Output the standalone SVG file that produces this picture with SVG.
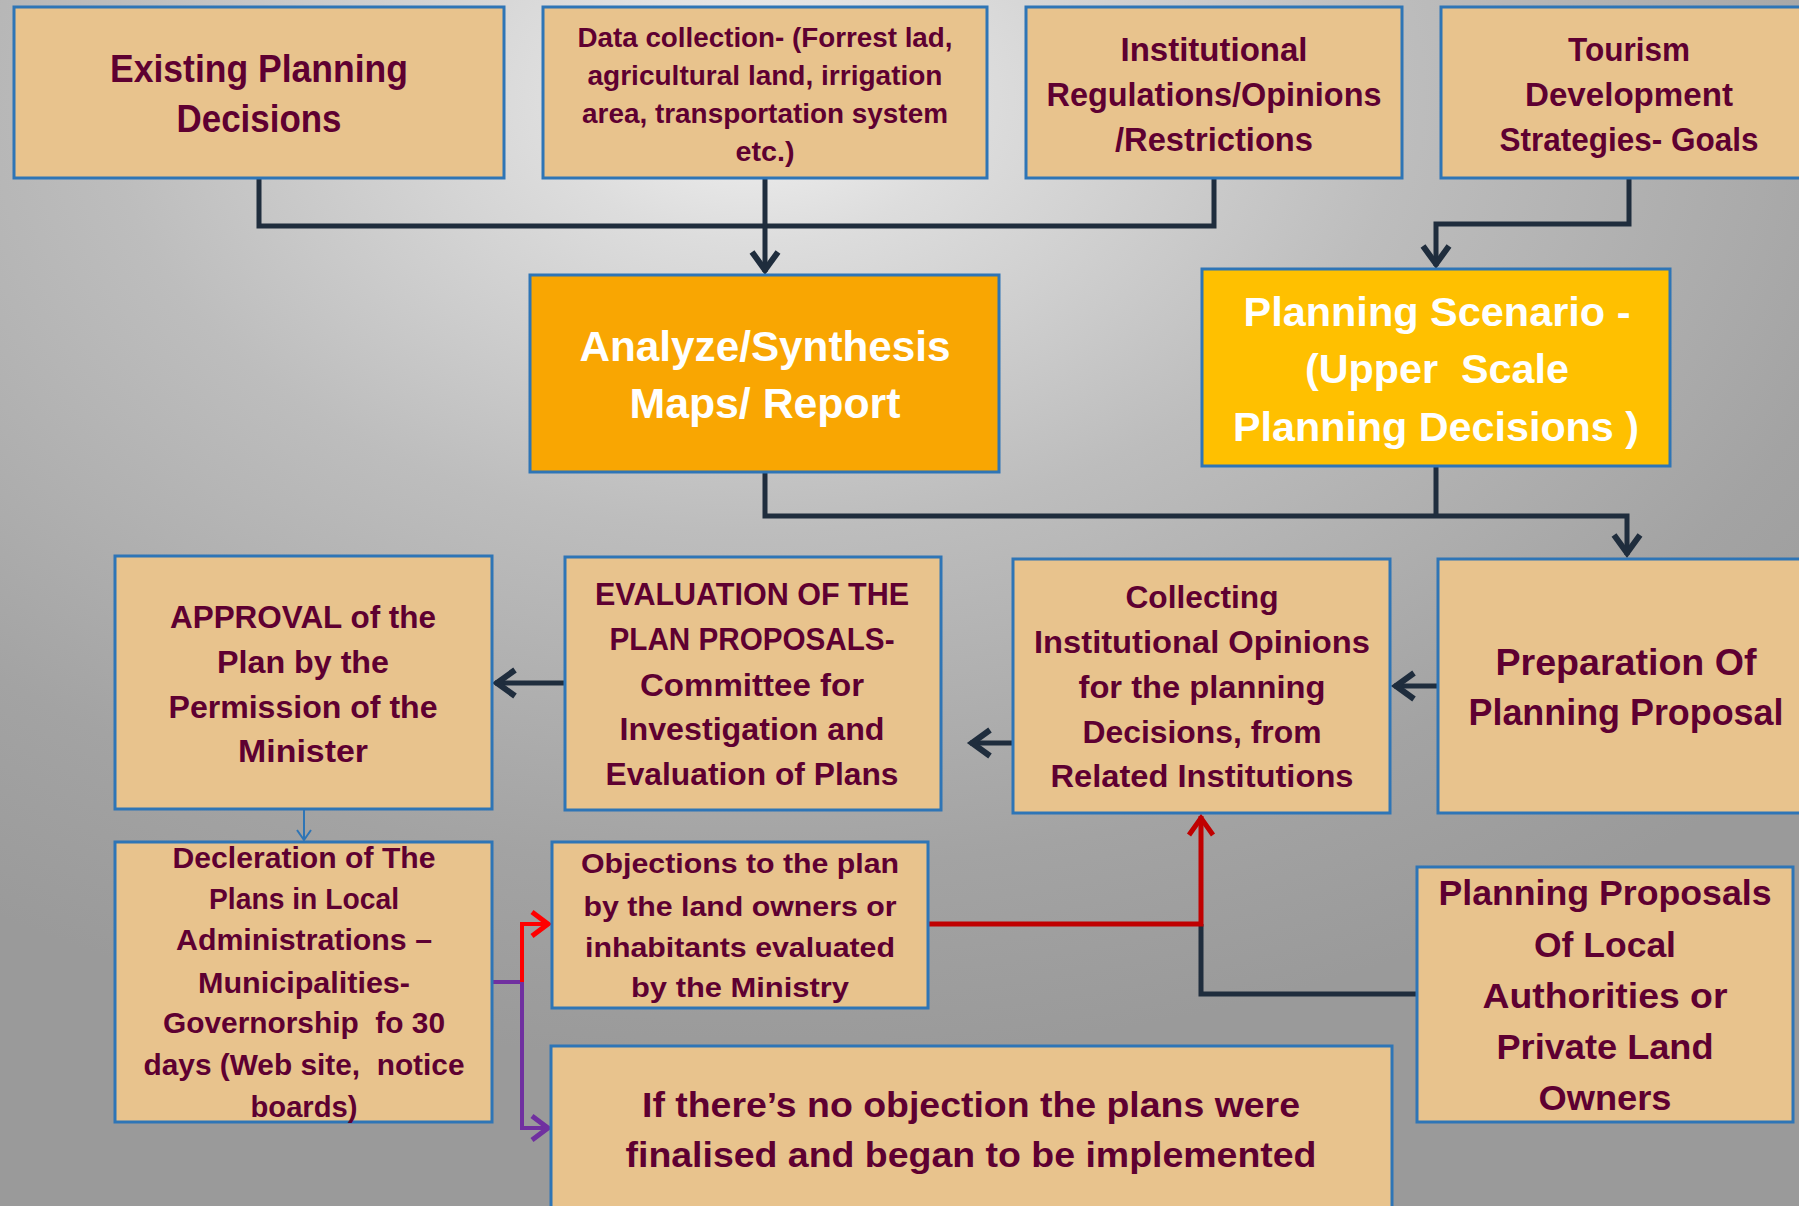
<svg xmlns="http://www.w3.org/2000/svg" width="1799" height="1206" viewBox="0 0 1799 1206">
<defs>
<radialGradient id="bg" cx="0.42" cy="0.08" r="0.8">
<stop offset="0" stop-color="#f3f3f3"/>
<stop offset="0.15" stop-color="#dddddd"/>
<stop offset="0.45" stop-color="#bdbdbd"/>
<stop offset="0.8" stop-color="#a3a3a3"/>
<stop offset="1" stop-color="#9a9a9a"/>
</radialGradient>
<marker id="mDark" markerUnits="userSpaceOnUse" markerWidth="50" markerHeight="50" viewBox="-35 -25 50 50" refX="0" refY="0" orient="auto"><path d="M-20,-13 L-2,0 L-20,13" fill="none" stroke="#1F2D3D" stroke-width="6"/></marker>
<marker id="mRed" markerUnits="userSpaceOnUse" markerWidth="50" markerHeight="50" viewBox="-35 -25 50 50" refX="0" refY="0" orient="auto"><path d="M-19,-12 L-2,0 L-19,12" fill="none" stroke="#C00000" stroke-width="5"/></marker>
<marker id="mRed2" markerUnits="userSpaceOnUse" markerWidth="50" markerHeight="50" viewBox="-35 -25 50 50" refX="0" refY="0" orient="auto"><path d="M-17,-12 L-1,0 L-17,12" fill="none" stroke="#FF0000" stroke-width="5"/></marker>
<marker id="mPurple" markerUnits="userSpaceOnUse" markerWidth="50" markerHeight="50" viewBox="-35 -25 50 50" refX="0" refY="0" orient="auto"><path d="M-17,-12 L-1,0 L-17,12" fill="none" stroke="#7030A0" stroke-width="5"/></marker>
<marker id="mBlue" markerUnits="userSpaceOnUse" markerWidth="20" markerHeight="20" viewBox="-15 -10 20 20" refX="0" refY="0" orient="auto"><path d="M-10,-7 L0,0 L-10,7" fill="none" stroke="#2E75B6" stroke-width="2"/></marker>
</defs>
<style>
.box{fill:#E8C38D;stroke:#2E75B6;stroke-width:3}
.ob{fill:#F9A602;stroke:#2E75B6;stroke-width:3}
.yb{fill:#FFC000;stroke:#2E75B6;stroke-width:3}
text{font-family:"Liberation Sans",Arial,sans-serif;font-weight:bold;fill:#5E0031;text-anchor:middle}
.w{fill:#ffffff}
.c{fill:none;stroke:#1F2D3D;stroke-width:5}
</style>
<rect x="0" y="0" width="1799" height="1206" fill="url(#bg)"/>

<g id="connectors">
<path class="c" d="M259,178 V226 H1214 V178"/>
<path class="c" d="M765,178 V272" marker-end="url(#mDark)"/>
<path class="c" d="M1629,178 V224 H1436 V266" marker-end="url(#mDark)"/>
<path class="c" d="M765,472 V516 H1627 V555" marker-end="url(#mDark)"/>
<path class="c" d="M1436,466 V516"/>
<path class="c" d="M565,683 H495" marker-end="url(#mDark)"/>
<path class="c" d="M1026,743 H970" marker-end="url(#mDark)"/>
<path class="c" d="M1438,686 H1394" marker-end="url(#mDark)"/>
<path d="M304,809 V840" fill="none" stroke="#2E75B6" stroke-width="2" marker-end="url(#mBlue)"/>
<path class="c" d="M1417,994 H1201 V924"/>
<path d="M928,924 H1201 V816" fill="none" stroke="#C00000" stroke-width="5" marker-end="url(#mRed)"/>
<path d="M491,982 H522 V1128 H549" fill="none" stroke="#7030A0" stroke-width="4" marker-end="url(#mPurple)"/>
<path d="M522,982 V924 H549" fill="none" stroke="#FF0000" stroke-width="4" marker-end="url(#mRed2)"/>
</g>

<g id="existing">
<rect class="box" x="14" y="7" width="490" height="171"/>
<text font-size="38" x="259" y="82" textLength="298" lengthAdjust="spacingAndGlyphs">Existing Planning</text>
<text font-size="38" x="259" y="132" textLength="165" lengthAdjust="spacingAndGlyphs">Decisions</text>
</g>

<g id="data">
<rect class="box" x="543" y="7" width="444" height="171"/>
<text font-size="27" x="765" y="47" textLength="375" lengthAdjust="spacingAndGlyphs">Data collection- (Forrest lad,</text>
<text font-size="27" x="765" y="85" textLength="355" lengthAdjust="spacingAndGlyphs">agricultural land, irrigation</text>
<text font-size="27" x="765" y="123" textLength="366" lengthAdjust="spacingAndGlyphs">area, transportation system</text>
<text font-size="27" x="765" y="161" textLength="59" lengthAdjust="spacingAndGlyphs">etc.)</text>
</g>

<g id="institutional">
<rect class="box" x="1026" y="7" width="376" height="171"/>
<text font-size="33" x="1214" y="61" textLength="187" lengthAdjust="spacingAndGlyphs">Institutional</text>
<text font-size="33" x="1214" y="106" textLength="335" lengthAdjust="spacingAndGlyphs">Regulations/Opinions</text>
<text font-size="33" x="1214" y="151" textLength="198" lengthAdjust="spacingAndGlyphs">/Restrictions</text>
</g>

<g id="tourism">
<rect class="box" x="1441" y="7" width="380" height="171"/>
<text font-size="33" x="1629" y="61" textLength="122" lengthAdjust="spacingAndGlyphs">Tourism</text>
<text font-size="33" x="1629" y="106" textLength="208" lengthAdjust="spacingAndGlyphs">Development</text>
<text font-size="33" x="1629" y="151" textLength="259" lengthAdjust="spacingAndGlyphs">Strategies- Goals</text>
</g>

<g id="analyze">
<rect class="ob" x="530" y="275" width="469" height="197"/>
<text class="w" font-size="43" x="765" y="361" textLength="371" lengthAdjust="spacingAndGlyphs">Analyze/Synthesis</text>
<text class="w" font-size="43" x="765" y="418" textLength="271" lengthAdjust="spacingAndGlyphs">Maps/ Report</text>
</g>

<g id="scenario">
<rect class="yb" x="1202" y="269" width="468" height="197"/>
<text class="w" font-size="40" x="1437" y="326" textLength="387" lengthAdjust="spacingAndGlyphs">Planning Scenario -</text>
<text class="w" font-size="40" x="1437" y="383" textLength="264" lengthAdjust="spacingAndGlyphs" xml:space="preserve">(Upper  Scale</text>
<text class="w" font-size="40" x="1436" y="441" textLength="406" lengthAdjust="spacingAndGlyphs">Planning Decisions )</text>
</g>

<g id="approval">
<rect class="box" x="115" y="556" width="377" height="253"/>
<text font-size="32" x="303" y="628" textLength="266" lengthAdjust="spacingAndGlyphs">APPROVAL of the</text>
<text font-size="32" x="303" y="673" textLength="172" lengthAdjust="spacingAndGlyphs">Plan by the</text>
<text font-size="32" x="303" y="718" textLength="269" lengthAdjust="spacingAndGlyphs">Permission of the</text>
<text font-size="32" x="303" y="762" textLength="130" lengthAdjust="spacingAndGlyphs">Minister</text>
</g>

<g id="evaluation">
<rect class="box" x="565" y="557" width="376" height="253"/>
<text font-size="32" x="752" y="605" textLength="314" lengthAdjust="spacingAndGlyphs">EVALUATION OF THE</text>
<text font-size="32" x="752" y="650" textLength="285" lengthAdjust="spacingAndGlyphs">PLAN PROPOSALS-</text>
<text font-size="32" x="752" y="696" textLength="224" lengthAdjust="spacingAndGlyphs">Committee for</text>
<text font-size="32" x="752" y="740" textLength="265" lengthAdjust="spacingAndGlyphs">Investigation and</text>
<text font-size="32" x="752" y="785" textLength="293" lengthAdjust="spacingAndGlyphs">Evaluation of Plans</text>
</g>

<g id="collecting">
<rect class="box" x="1013" y="559" width="377" height="254"/>
<text font-size="32" x="1202" y="608" textLength="153" lengthAdjust="spacingAndGlyphs">Collecting</text>
<text font-size="32" x="1202" y="653" textLength="336" lengthAdjust="spacingAndGlyphs">Institutional Opinions</text>
<text font-size="32" x="1202" y="698" textLength="247" lengthAdjust="spacingAndGlyphs">for the planning</text>
<text font-size="32" x="1202" y="743" textLength="239" lengthAdjust="spacingAndGlyphs">Decisions, from</text>
<text font-size="32" x="1202" y="787" textLength="303" lengthAdjust="spacingAndGlyphs">Related Institutions</text>
</g>

<g id="preparation">
<rect class="box" x="1438" y="559" width="380" height="254"/>
<text font-size="36" x="1626" y="675" textLength="261" lengthAdjust="spacingAndGlyphs">Preparation Of</text>
<text font-size="36" x="1626" y="725" textLength="315" lengthAdjust="spacingAndGlyphs">Planning Proposal</text>
</g>

<g id="decleration">
<rect class="box" x="115" y="842" width="377" height="280"/>
<text font-size="30" x="304" y="868" textLength="263" lengthAdjust="spacingAndGlyphs">Decleration of The</text>
<text font-size="30" x="304" y="909" textLength="190" lengthAdjust="spacingAndGlyphs">Plans in Local</text>
<text font-size="30" x="304" y="950" textLength="256" lengthAdjust="spacingAndGlyphs">Administrations –</text>
<text font-size="30" x="304" y="993" textLength="212" lengthAdjust="spacingAndGlyphs">Municipalities-</text>
<text font-size="30" x="304" y="1033" textLength="282" lengthAdjust="spacingAndGlyphs" xml:space="preserve">Governorship  fo 30</text>
<text font-size="30" x="304" y="1075" textLength="321" lengthAdjust="spacingAndGlyphs" xml:space="preserve">days (Web site,  notice</text>
<text font-size="30" x="304" y="1117" textLength="107" lengthAdjust="spacingAndGlyphs">boards)</text>
</g>

<g id="objections">
<rect class="box" x="552" y="842" width="376" height="166"/>
<text font-size="28" x="740" y="873" textLength="318" lengthAdjust="spacingAndGlyphs">Objections to the plan</text>
<text font-size="28" x="740" y="916" textLength="313" lengthAdjust="spacingAndGlyphs">by the land owners or</text>
<text font-size="28" x="740" y="957" textLength="310" lengthAdjust="spacingAndGlyphs">inhabitants evaluated</text>
<text font-size="28" x="740" y="997" textLength="218" lengthAdjust="spacingAndGlyphs">by the Ministry</text>
</g>

<g id="final">
<rect class="box" x="551" y="1046" width="841" height="180"/>
<text font-size="35" x="971" y="1117" textLength="658" lengthAdjust="spacingAndGlyphs">If there’s no objection the plans were</text>
<text font-size="35" x="971" y="1167" textLength="691" lengthAdjust="spacingAndGlyphs">finalised and began to be implemented</text>
</g>

<g id="local">
<rect class="box" x="1417" y="867" width="376" height="255"/>
<text font-size="35" x="1605" y="905" textLength="333" lengthAdjust="spacingAndGlyphs">Planning Proposals</text>
<text font-size="35" x="1605" y="957" textLength="142" lengthAdjust="spacingAndGlyphs">Of Local</text>
<text font-size="35" x="1605" y="1008" textLength="245" lengthAdjust="spacingAndGlyphs">Authorities or</text>
<text font-size="35" x="1605" y="1059" textLength="217" lengthAdjust="spacingAndGlyphs">Private Land</text>
<text font-size="35" x="1605" y="1110" textLength="133" lengthAdjust="spacingAndGlyphs">Owners</text>
</g>
</svg>
